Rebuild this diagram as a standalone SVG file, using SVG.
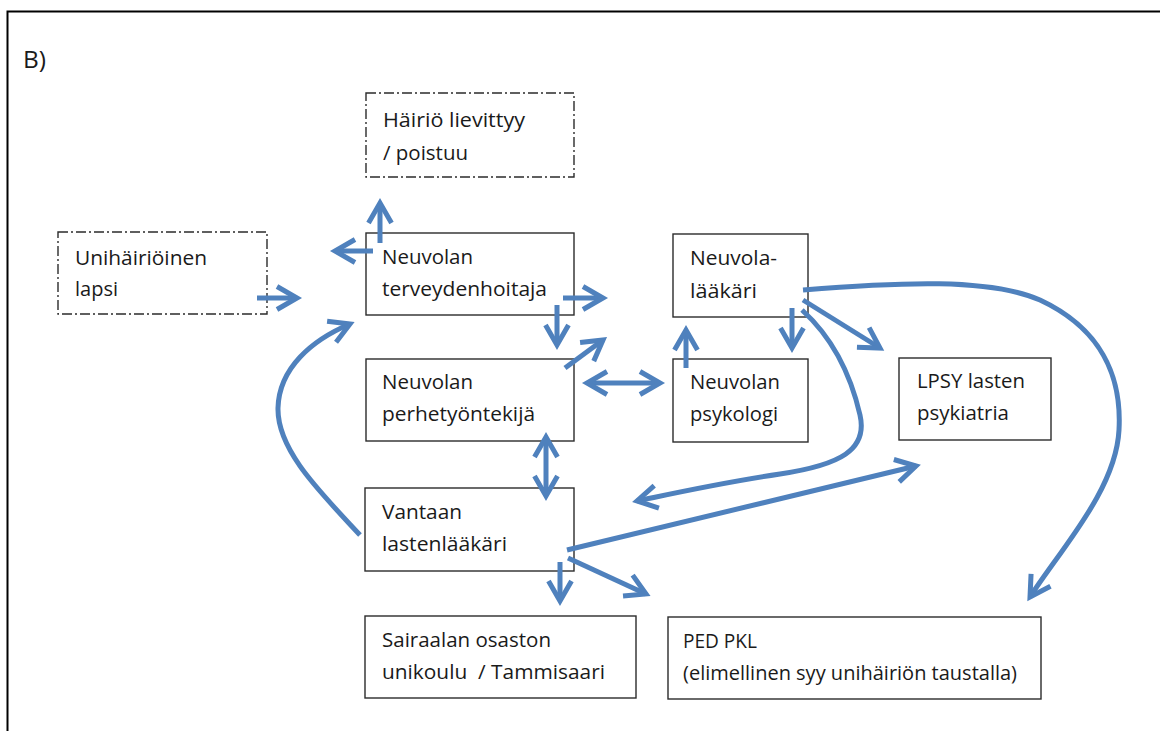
<svg xmlns="http://www.w3.org/2000/svg" width="1160" height="731" viewBox="0 0 1160 731">
<style>
.box{fill:#ffffff;stroke:#2b2b2b;stroke-width:1.4}
.dd{fill:#ffffff;stroke:#2b2b2b;stroke-width:1.4;stroke-dasharray:10,3,2,3}
.t{font-family:"Open Sans","Noto Sans","Liberation Sans",sans-serif;font-size:19.5px;fill:#1a1a1a}
.c{fill:none;stroke:#4F81BD;stroke-width:5}
.ah{fill:none;stroke:#4F81BD;stroke-width:5;stroke-linejoin:miter}
</style>
<defs>
<marker id="a" markerUnits="userSpaceOnUse" markerWidth="60" markerHeight="60" refX="0" refY="0" orient="auto-start-reverse" overflow="visible">
<path class="ah" d="M-20,-11.5 L0,0 L-20,11.5"/>
</marker>
</defs>
<rect width="1160" height="731" fill="#ffffff"/>
<path d="M7.5,731 L7.5,11.5 L1160,11.5" fill="none" stroke="#000" stroke-width="2"/>
<text class="t" x="23" y="68" style="font-size:24px" textLength="23" lengthAdjust="spacingAndGlyphs">B)</text>

<g id="haerioe">
<rect class="dd" x="366" y="93" width="208" height="84"/>
<text class="t" x="383" y="127" textLength="142" lengthAdjust="spacingAndGlyphs">Häiriö lievittyy</text>
<text class="t" x="383" y="160" textLength="85" lengthAdjust="spacingAndGlyphs">/ poistuu</text>
</g>
<g id="unihaerioeinen">
<rect class="dd" x="58" y="232" width="209" height="82"/>
<text class="t" x="75" y="265" textLength="132" lengthAdjust="spacingAndGlyphs">Unihäiriöinen</text>
<text class="t" x="75" y="296" textLength="43" lengthAdjust="spacingAndGlyphs">lapsi</text>
</g>
<g id="terveydenhoitaja">
<rect class="box" x="366" y="233" width="208" height="82"/>
<text class="t" x="382" y="264" textLength="91" lengthAdjust="spacingAndGlyphs">Neuvolan</text>
<text class="t" x="382" y="296" textLength="165" lengthAdjust="spacingAndGlyphs">terveydenhoitaja</text>
</g>
<g id="perhetyontekija">
<rect class="box" x="366" y="359" width="208" height="82"/>
<text class="t" x="382" y="389" textLength="91" lengthAdjust="spacingAndGlyphs">Neuvolan</text>
<text class="t" x="382" y="421" textLength="153" lengthAdjust="spacingAndGlyphs">perhetyöntekijä</text>
</g>
<g id="neuvolalaakari">
<rect class="box" x="673" y="234" width="135" height="83"/>
<text class="t" x="690" y="265" textLength="87" lengthAdjust="spacingAndGlyphs">Neuvola-</text>
<text class="t" x="690" y="298" textLength="67" lengthAdjust="spacingAndGlyphs">lääkäri</text>
</g>
<g id="psykologi">
<rect class="box" x="673" y="359" width="135" height="83"/>
<text class="t" x="690" y="389" textLength="90" lengthAdjust="spacingAndGlyphs">Neuvolan</text>
<text class="t" x="690" y="421" textLength="88" lengthAdjust="spacingAndGlyphs">psykologi</text>
</g>
<g id="lpsy">
<rect class="box" x="899" y="358" width="152" height="82"/>
<text class="t" x="917" y="388" textLength="108" lengthAdjust="spacingAndGlyphs">LPSY lasten</text>
<text class="t" x="917" y="420" textLength="92" lengthAdjust="spacingAndGlyphs">psykiatria</text>
</g>
<g id="vantaan">
<rect class="box" x="365" y="488" width="209" height="83"/>
<text class="t" x="382" y="519" textLength="80" lengthAdjust="spacingAndGlyphs">Vantaan</text>
<text class="t" x="382" y="551" textLength="125" lengthAdjust="spacingAndGlyphs">lastenlääkäri</text>
</g>
<g id="sairaala">
<rect class="box" x="365" y="616" width="271" height="82"/>
<text class="t" x="382" y="647" textLength="169" lengthAdjust="spacingAndGlyphs">Sairaalan osaston</text>
<text class="t" x="382" y="679" textLength="223" lengthAdjust="spacingAndGlyphs" xml:space="preserve">unikoulu  / Tammisaari</text>
</g>
<g id="pedpkl">
<rect class="box" x="668" y="617" width="373" height="82"/>
<text class="t" x="683" y="648" textLength="74" lengthAdjust="spacingAndGlyphs">PED PKL</text>
<text class="t" x="683" y="680" textLength="334" lengthAdjust="spacingAndGlyphs">(elimellinen syy unihäiriön taustalla)</text>
</g>

<g id="connectors">
<path class="c" d="M380,243 L380,203" marker-end="url(#a)"/>
<path class="c" d="M373,251 L335,251" marker-end="url(#a)"/>
<path class="c" d="M257,298 L297,298" marker-end="url(#a)"/>
<path class="c" d="M563,298 L603,298" marker-end="url(#a)"/>
<path class="c" d="M557,305 L557,345" marker-end="url(#a)"/>
<path class="c" d="M565,368 L603,340" marker-end="url(#a)"/>
<path class="c" d="M587,383 L660,383" marker-start="url(#a)" marker-end="url(#a)"/>
<path class="c" d="M686,368 L686,330" marker-end="url(#a)"/>
<path class="c" d="M792,308 L792,348" marker-end="url(#a)"/>
<path class="c" d="M803,300 L880,348" marker-end="url(#a)"/>
<path class="c" d="M803,290 C900,282 990,278 1040,300 C1100,328 1122,375 1119,430 C1116,490 1060,550 1030,597" marker-end="url(#a)"/>
<path class="c" d="M802,310 C835,340 852,380 860,415 C868,450 840,465 780,474 C720,483 680,492 637,501" marker-end="url(#a)"/>
<path class="c" d="M567,550 L916,466" marker-end="url(#a)"/>
<path class="c" d="M560,562 L560,601" marker-end="url(#a)"/>
<path class="c" d="M568,558 L646,594" marker-end="url(#a)"/>
<path class="c" d="M546,437 L546,496" marker-start="url(#a)" marker-end="url(#a)"/>
<path class="c" d="M360,535 C320,492 277,450 278,408 C279,368 312,340 350,324" marker-end="url(#a)"/>
</g>
</svg>
